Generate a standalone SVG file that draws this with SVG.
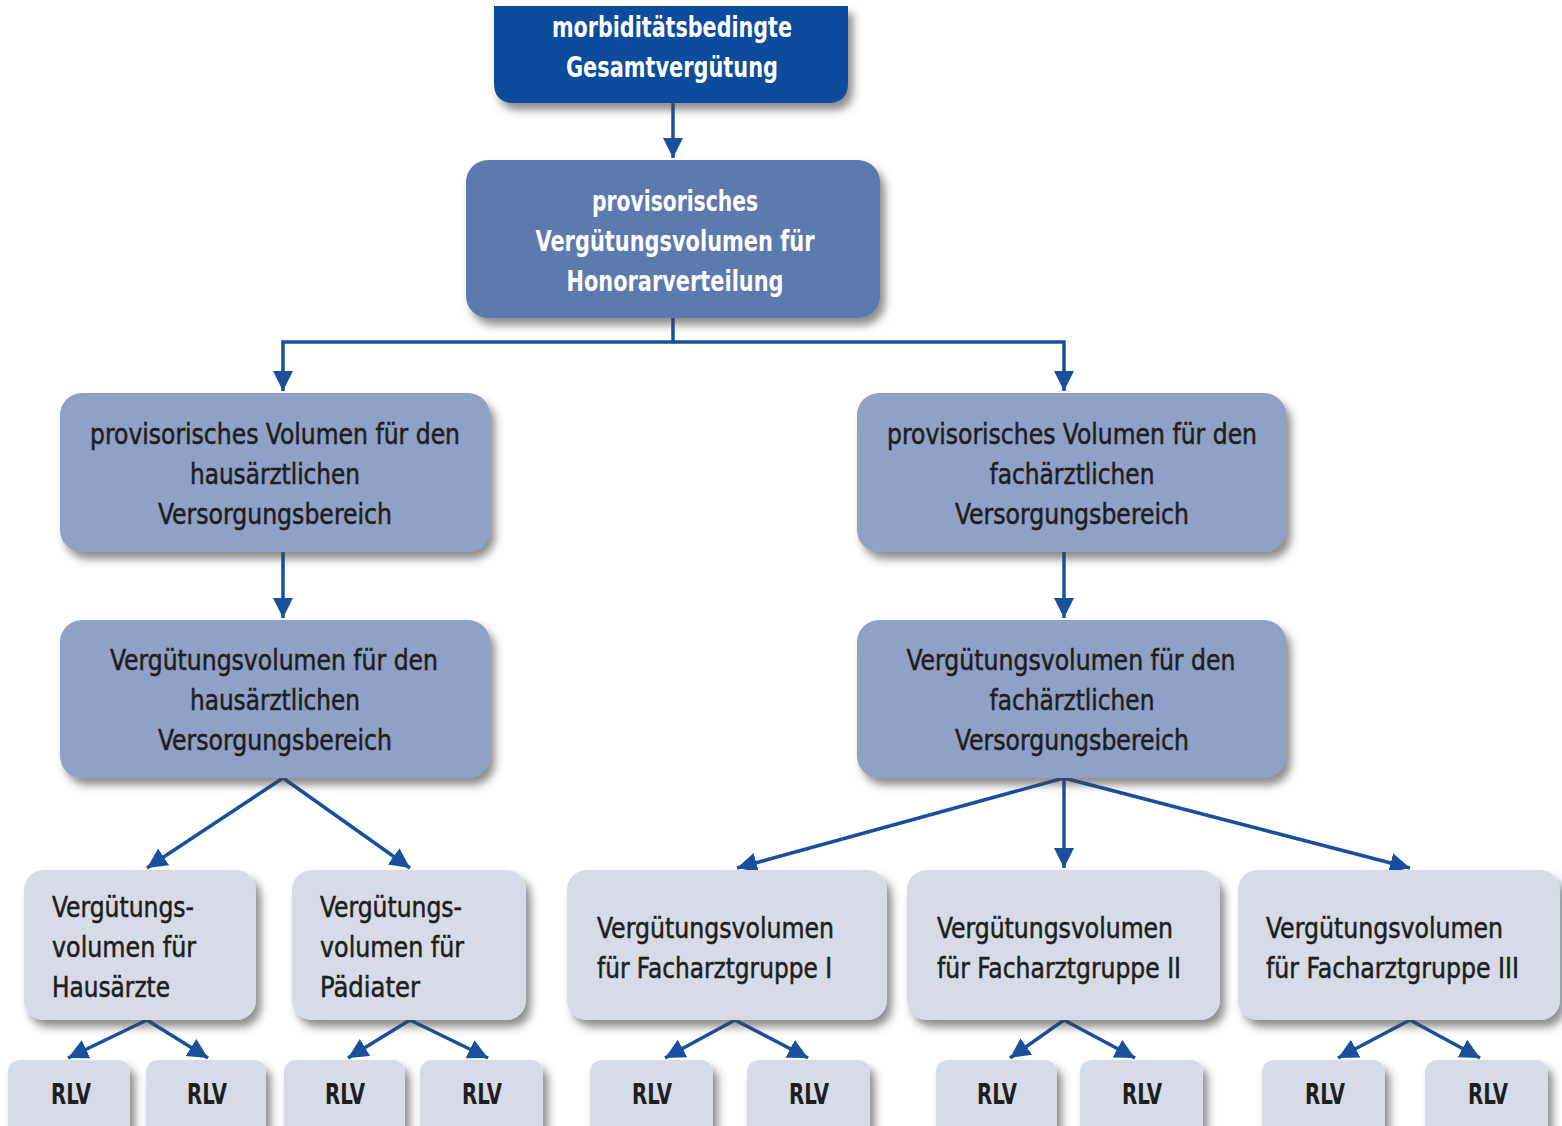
<svg xmlns="http://www.w3.org/2000/svg" width="1562" height="1126" viewBox="0 0 1562 1126">
<defs>
<filter id="sh" x="-10%" y="-10%" width="125%" height="135%">
<feDropShadow dx="5" dy="7" stdDeviation="4" flood-color="#404040" flood-opacity="0.6"/>
</filter>
<marker id="ah" markerUnits="userSpaceOnUse" markerWidth="24" markerHeight="22" refX="20" refY="10" orient="auto">
<path d="M0,0 L20,10 L0,20 z" fill="#1a4f9c"/>
</marker>
<style>
.t{font-family:"Liberation Sans Narrow","DejaVu Sans Condensed","Liberation Sans",Arial,sans-serif;font-size:28px;}
.w{fill:#ffffff;font-weight:bold;text-anchor:middle;}
.d{fill:#1e1e1e;text-anchor:middle;stroke:#1e1e1e;stroke-width:0.5;}
.l{fill:#1e1e1e;text-anchor:start;stroke:#1e1e1e;stroke-width:0.5;}
.r{fill:#1e1e1e;font-weight:bold;text-anchor:middle;}
.b1{fill:#0b4b9c;}
.b2{fill:#5b7aae;}
.b3{fill:#8fa1c6;}
.b4{fill:#d6dbe7;}
.c{stroke:#1a4f9c;stroke-width:3.5;fill:none;}
</style>
</defs>
<rect width="1562" height="1126" fill="#ffffff"/>

<g id="connectors">
<line class="c" x1="673" y1="103" x2="673" y2="158" marker-end="url(#ah)"/>
<polyline class="c" points="673,318 673,342 283,342 283,391" marker-end="url(#ah)"/>
<polyline class="c" points="673,342 1064,342 1064,391" marker-end="url(#ah)"/>
<line class="c" x1="283" y1="552" x2="283" y2="618" marker-end="url(#ah)"/>
<line class="c" x1="1064" y1="552" x2="1064" y2="618" marker-end="url(#ah)"/>
<line class="c" x1="283" y1="778" x2="147" y2="868" marker-end="url(#ah)"/>
<line class="c" x1="283" y1="778" x2="410" y2="868" marker-end="url(#ah)"/>
<line class="c" x1="1064" y1="778" x2="737" y2="868" marker-end="url(#ah)"/>
<line class="c" x1="1064" y1="778" x2="1064" y2="868" marker-end="url(#ah)"/>
<line class="c" x1="1064" y1="778" x2="1410" y2="868" marker-end="url(#ah)"/>
<line class="c" x1="147" y1="1020" x2="68" y2="1058" marker-end="url(#ah)"/>
<line class="c" x1="147" y1="1020" x2="208" y2="1058" marker-end="url(#ah)"/>
<line class="c" x1="410" y1="1020" x2="348" y2="1058" marker-end="url(#ah)"/>
<line class="c" x1="410" y1="1020" x2="488" y2="1058" marker-end="url(#ah)"/>
<line class="c" x1="735" y1="1020" x2="665" y2="1058" marker-end="url(#ah)"/>
<line class="c" x1="735" y1="1020" x2="808" y2="1058" marker-end="url(#ah)"/>
<line class="c" x1="1064" y1="1020" x2="1010" y2="1058" marker-end="url(#ah)"/>
<line class="c" x1="1064" y1="1020" x2="1135" y2="1058" marker-end="url(#ah)"/>
<line class="c" x1="1410" y1="1020" x2="1338" y2="1058" marker-end="url(#ah)"/>
<line class="c" x1="1410" y1="1020" x2="1480" y2="1058" marker-end="url(#ah)"/>
</g>

<g id="n-gesamt">
<path class="b1" filter="url(#sh)" d="M494,6 H848 V83 Q848,103 828,103 H514 Q494,103 494,83 Z"/>
<text class="t w" x="672" y="37" textLength="240" lengthAdjust="spacingAndGlyphs">morbiditätsbedingte</text>
<text class="t w" x="672" y="77" textLength="212" lengthAdjust="spacingAndGlyphs">Gesamtvergütung</text>
</g>

<g id="n-provisorisch">
<rect class="b2" filter="url(#sh)" x="466" y="160" width="414" height="158" rx="22"/>
<text class="t w" x="675" y="211" textLength="166" lengthAdjust="spacingAndGlyphs">provisorisches</text>
<text class="t w" x="675" y="251" textLength="279" lengthAdjust="spacingAndGlyphs">Vergütungsvolumen für</text>
<text class="t w" x="675" y="291" textLength="217" lengthAdjust="spacingAndGlyphs">Honorarverteilung</text>
</g>

<g id="n-prov-haus">
<rect class="b3" filter="url(#sh)" x="60" y="393" width="430" height="159" rx="22"/>
<text class="t d" x="275" y="444" textLength="370" lengthAdjust="spacingAndGlyphs">provisorisches Volumen für den</text>
<text class="t d" x="275" y="484" textLength="170" lengthAdjust="spacingAndGlyphs">hausärztlichen</text>
<text class="t d" x="275" y="524" textLength="234" lengthAdjust="spacingAndGlyphs">Versorgungsbereich</text>
</g>

<g id="n-prov-fach">
<rect class="b3" filter="url(#sh)" x="857" y="393" width="429" height="159" rx="22"/>
<text class="t d" x="1072" y="444" textLength="370" lengthAdjust="spacingAndGlyphs">provisorisches Volumen für den</text>
<text class="t d" x="1072" y="484" textLength="165" lengthAdjust="spacingAndGlyphs">fachärztlichen</text>
<text class="t d" x="1072" y="524" textLength="234" lengthAdjust="spacingAndGlyphs">Versorgungsbereich</text>
</g>

<g id="n-verg-haus">
<rect class="b3" filter="url(#sh)" x="60" y="620" width="430" height="158" rx="22"/>
<text class="t d" x="274" y="670" textLength="328" lengthAdjust="spacingAndGlyphs">Vergütungsvolumen für den</text>
<text class="t d" x="275" y="710" textLength="170" lengthAdjust="spacingAndGlyphs">hausärztlichen</text>
<text class="t d" x="275" y="750" textLength="234" lengthAdjust="spacingAndGlyphs">Versorgungsbereich</text>
</g>

<g id="n-verg-fach">
<rect class="b3" filter="url(#sh)" x="857" y="620" width="429" height="158" rx="22"/>
<text class="t d" x="1071" y="670" textLength="329" lengthAdjust="spacingAndGlyphs">Vergütungsvolumen für den</text>
<text class="t d" x="1072" y="710" textLength="165" lengthAdjust="spacingAndGlyphs">fachärztlichen</text>
<text class="t d" x="1072" y="750" textLength="234" lengthAdjust="spacingAndGlyphs">Versorgungsbereich</text>
</g>

<g id="n-hausaerzte">
<rect class="b4" filter="url(#sh)" x="24" y="870" width="232" height="150" rx="20"/>
<text class="t l" x="52" y="917" textLength="142" lengthAdjust="spacingAndGlyphs">Vergütungs-</text>
<text class="t l" x="52" y="957" textLength="144" lengthAdjust="spacingAndGlyphs">volumen für</text>
<text class="t l" x="52" y="997" textLength="118" lengthAdjust="spacingAndGlyphs">Hausärzte</text>
</g>

<g id="n-paediater">
<rect class="b4" filter="url(#sh)" x="292" y="870" width="234" height="150" rx="20"/>
<text class="t l" x="320" y="917" textLength="142" lengthAdjust="spacingAndGlyphs">Vergütungs-</text>
<text class="t l" x="320" y="957" textLength="144" lengthAdjust="spacingAndGlyphs">volumen für</text>
<text class="t l" x="320" y="997" textLength="100" lengthAdjust="spacingAndGlyphs">Pädiater</text>
</g>

<g id="n-fg1">
<rect class="b4" filter="url(#sh)" x="567" y="870" width="320" height="150" rx="20"/>
<text class="t l" x="597" y="938" textLength="237" lengthAdjust="spacingAndGlyphs">Vergütungsvolumen</text>
<text class="t l" x="597" y="978" textLength="235" lengthAdjust="spacingAndGlyphs">für Facharztgruppe I</text>
</g>

<g id="n-fg2">
<rect class="b4" filter="url(#sh)" x="907" y="870" width="313" height="150" rx="20"/>
<text class="t l" x="937" y="938" textLength="236" lengthAdjust="spacingAndGlyphs">Vergütungsvolumen</text>
<text class="t l" x="937" y="978" textLength="244" lengthAdjust="spacingAndGlyphs">für Facharztgruppe II</text>
</g>

<g id="n-fg3">
<rect class="b4" filter="url(#sh)" x="1238" y="870" width="322" height="150" rx="20"/>
<text class="t l" x="1266" y="938" textLength="237" lengthAdjust="spacingAndGlyphs">Vergütungsvolumen</text>
<text class="t l" x="1266" y="978" textLength="253" lengthAdjust="spacingAndGlyphs">für Facharztgruppe III</text>
</g>

<g id="n-rlv1"><rect class="b4" filter="url(#sh)" x="8" y="1060" width="122" height="90" rx="12"/><text class="t r" x="71" y="1104" textLength="40" lengthAdjust="spacingAndGlyphs">RLV</text></g>
<g id="n-rlv2"><rect class="b4" filter="url(#sh)" x="146" y="1060" width="120" height="90" rx="12"/><text class="t r" x="207" y="1104" textLength="40" lengthAdjust="spacingAndGlyphs">RLV</text></g>
<g id="n-rlv3"><rect class="b4" filter="url(#sh)" x="284" y="1060" width="121" height="90" rx="12"/><text class="t r" x="345" y="1104" textLength="40" lengthAdjust="spacingAndGlyphs">RLV</text></g>
<g id="n-rlv4"><rect class="b4" filter="url(#sh)" x="420" y="1060" width="123" height="90" rx="12"/><text class="t r" x="482" y="1104" textLength="40" lengthAdjust="spacingAndGlyphs">RLV</text></g>
<g id="n-rlv5"><rect class="b4" filter="url(#sh)" x="590" y="1060" width="123" height="90" rx="12"/><text class="t r" x="652" y="1104" textLength="40" lengthAdjust="spacingAndGlyphs">RLV</text></g>
<g id="n-rlv6"><rect class="b4" filter="url(#sh)" x="747" y="1060" width="123" height="90" rx="12"/><text class="t r" x="809" y="1104" textLength="40" lengthAdjust="spacingAndGlyphs">RLV</text></g>
<g id="n-rlv7"><rect class="b4" filter="url(#sh)" x="936" y="1060" width="121" height="90" rx="12"/><text class="t r" x="997" y="1104" textLength="40" lengthAdjust="spacingAndGlyphs">RLV</text></g>
<g id="n-rlv8"><rect class="b4" filter="url(#sh)" x="1080" y="1060" width="123" height="90" rx="12"/><text class="t r" x="1142" y="1104" textLength="40" lengthAdjust="spacingAndGlyphs">RLV</text></g>
<g id="n-rlv9"><rect class="b4" filter="url(#sh)" x="1262" y="1060" width="123" height="90" rx="12"/><text class="t r" x="1325" y="1104" textLength="40" lengthAdjust="spacingAndGlyphs">RLV</text></g>
<g id="n-rlv10"><rect class="b4" filter="url(#sh)" x="1425" y="1060" width="123" height="90" rx="12"/><text class="t r" x="1488" y="1104" textLength="40" lengthAdjust="spacingAndGlyphs">RLV</text></g>
</svg>
